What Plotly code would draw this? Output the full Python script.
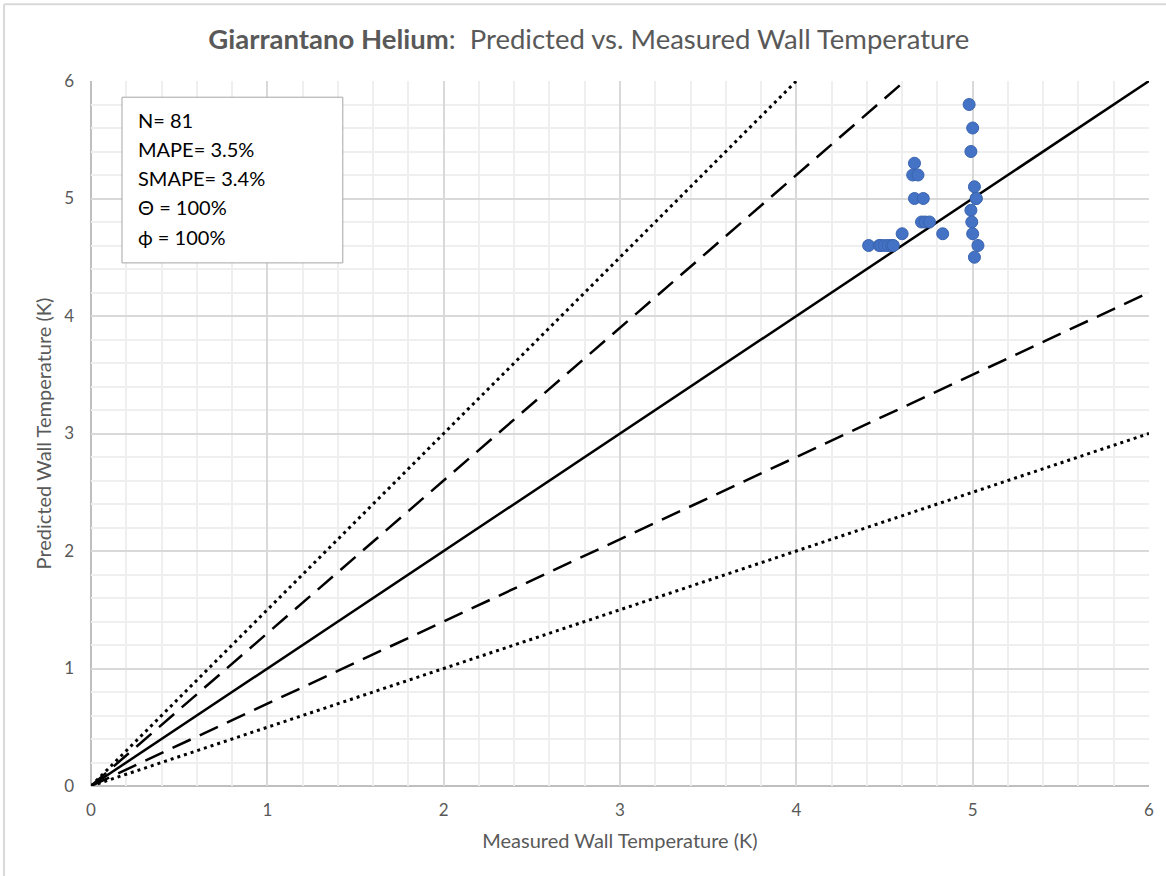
import plotly.graph_objects as go

# ---- data ----
measured = [4.98, 5.00, 4.99, 4.67, 4.66, 4.69, 4.67, 4.72, 5.01, 5.02, 5.02,
            4.99, 4.995, 4.71, 4.73, 4.755, 5.00, 4.60, 4.83, 5.03, 5.01,
            4.41, 4.47, 4.48, 4.50, 4.52, 4.54, 4.55]
predicted = [5.80, 5.60, 5.40, 5.30, 5.20, 5.20, 5.00, 5.00, 5.10, 5.00, 5.00,
             4.90, 4.80, 4.80, 4.80, 4.80, 4.70, 4.70, 4.70, 4.60, 4.50,
             4.60, 4.60, 4.60, 4.60, 4.60, 4.60, 4.60]

ref_x = [0, 6]
ratio_lines = [
    (1.0, "solid", 2.5),
    (1.3, "20px,10px", 2.5),
    (0.7, "20px,10px", 2.5),
    (1.5, "3px,4px", 3),
    (0.5, "3px,4px", 3),
]

stats_lines = ["N= 81", "MAPE= 3.5%", "SMAPE= 3.4%", "\u0398 = 100%", "\u03d5 = 100%"]

title_bold = "Giarrantano Helium"
title_rest = ":  Predicted vs. Measured Wall Temperature"
x_title = "Measured Wall Temperature (K)"
y_title = "Predicted Wall Temperature (K)"

FONT = "Lato, Open Sans, sans-serif"
GREY = "#595959"

fig = go.Figure()
for k, dash, w in ratio_lines:
    fig.add_trace(go.Scatter(
        x=ref_x, y=[k * v for v in ref_x], mode="lines",
        line=dict(color="black", width=w, dash=dash),
        showlegend=False, hoverinfo="skip", cliponaxis=True))

fig.add_trace(go.Scatter(
    x=measured, y=predicted, mode="markers",
    marker=dict(size=12, color="#4472C4", line=dict(color="#3a64b0", width=1)),
    showlegend=False))

axis_common = dict(
    range=[0, 6], dtick=1, tick0=0,
    showgrid=True, gridcolor="#d9d9d9", gridwidth=1.5,
    minor=dict(dtick=0.2, showgrid=True, gridcolor="#efefef", gridwidth=1.5),
    zeroline=False, showline=False, ticks="",
    tickfont=dict(family=FONT, size=17, color=GREY),
    fixedrange=True,
)

fig.update_xaxes(**axis_common, ticklabelstandoff=12,
                 title=dict(text=x_title, font=dict(family=FONT, size=20, color=GREY), standoff=14))
fig.update_yaxes(**axis_common, ticklabelstandoff=16,
                 title=dict(text=y_title, font=dict(family=FONT, size=20, color=GREY), standoff=7))

# axis lines (grey) at zero
fig.add_shape(type="line", xref="paper", yref="paper", x0=0, x1=1, y0=0, y1=0,
              line=dict(color="#bfbfbf", width=2), layer="below")
fig.add_shape(type="line", xref="paper", yref="paper", x0=0, x1=0, y0=0, y1=1,
              line=dict(color="#bfbfbf", width=2), layer="below")

# stats box
fig.add_shape(type="rect", xref="paper", yref="paper",
              x0=0.0293, x1=0.238, y0=0.742, y1=0.977,
              line=dict(color="#a6a6a6", width=1), fillcolor="white", layer="above")
ys = [0.944, 0.903, 0.862, 0.821, 0.779]
for txt, yy in zip(stats_lines, ys):
    fig.add_annotation(text=txt, xref="paper", yref="paper", x=0.0425, y=yy,
                       xanchor="left", yanchor="middle", showarrow=False,
                       font=dict(family=FONT, size=20, color="black"))

# outer chart border (left & top visible)
fig.add_shape(type="line", xref="paper", yref="paper",
              x0=-0.0822, x1=-0.0822, y0=-0.2, y1=1.109,
              line=dict(color="#d9d9d9", width=2))
fig.add_shape(type="line", xref="paper", yref="paper",
              x0=-0.0822, x1=1.05, y0=1.109, y1=1.109,
              line=dict(color="#d9d9d9", width=2))

fig.update_layout(
    width=1166, height=876,
    margin=dict(l=91, r=17, t=81, b=90),
    paper_bgcolor="white", plot_bgcolor="white",
    title=dict(text=f"<b>{title_bold}</b>{title_rest}", x=0.505, xanchor="center",
               y=0.955, yanchor="middle",
               font=dict(family=FONT, size=27.5, color=GREY)),
)

fig.write_html("out.html")
